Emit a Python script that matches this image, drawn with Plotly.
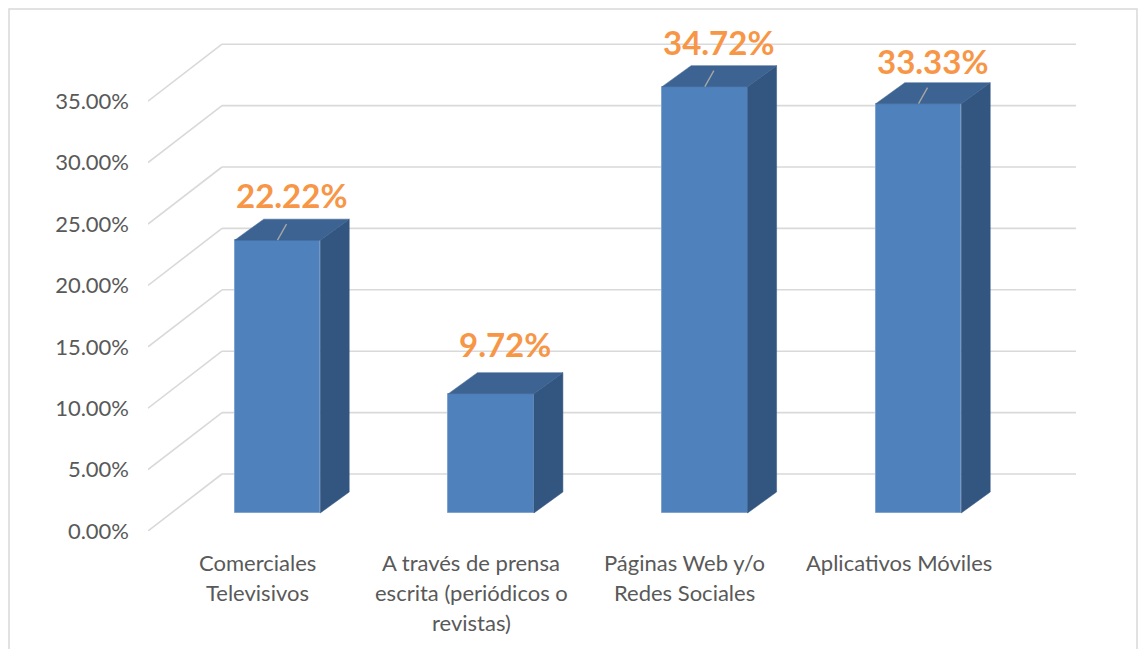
import plotly.graph_objects as go

# ---- data -------------------------------------------------------------
categories = [
    "Comerciales<br>Televisivos",
    "A través de prensa<br>escrita (periódicos o<br>revistas)",
    "Páginas Web y/o<br>Redes Sociales",
    "Aplicativos Móviles",
]
values = [22.22, 9.72, 34.72, 33.33]
tick_values = [0, 5, 10, 15, 20, 25, 30, 35]
tick_labels = ["0.00%", "5.00%", "10.00%", "15.00%", "20.00%", "25.00%", "30.00%", "35.00%"]
leader_shown = [True, False, True, True]

# ---- styling / geometry (pixels) --------------------------------------
W, H = 1139, 649
PLOT_L, PLOT_R, PLOT_T, PLOT_B = 148, 1076, 20, 531
PX_PER_CAT = 213.67          # horizontal pixels per category step
PX_PER_PCT = 12.28           # vertical pixels per percentage point
ZERO_Y = 513                 # pixel row of 0 % on the bar front plane
FIRST_X = 277.5              # pixel column of the first bar centre
BAR_W = 0.40                 # bar width in category units
DEPTH_DX, DEPTH_DY = 29, 21  # bar depth projection
WALL_DX, WALL_DY = 50.6, 39  # back wall offset from the bar plane
FLOOR_DY = 18                # front floor edge below the bar plane
LABEL_SHIFT = -20            # category labels sit on the front floor edge
VALUE_LABEL_NUDGE = [-2, -7, -2, 0]  # vertical pixel nudges of value labels

FRONT = "#4F81BD"
SIDE = "#335680"
TOP = "#3C6391"
GRID = "#D9D9D9"
TEXT = "#595959"
ORANGE = "#F79646"
FONT = "Lato"


def ux(px):
    return px / PX_PER_CAT


def uy(px):
    return px / PX_PER_PCT


def x_at(px):
    return (px - FIRST_X) / PX_PER_CAT


x_range = [x_at(PLOT_L), x_at(PLOT_R)]
y_range = [-uy(PLOT_B - ZERO_Y), uy(ZERO_Y - PLOT_T)]
idx = list(range(len(values)))
hw = BAR_W / 2
ddx, ddy = ux(DEPTH_DX), uy(DEPTH_DY)

fig = go.Figure()

# front faces
fig.add_trace(go.Bar(
    x=idx, y=values, width=BAR_W,
    marker=dict(color=FRONT, line=dict(color="#7FA3D1", width=1)),
    hoverinfo="skip", showlegend=False,
))

# side and top faces of each bar
for i, v in zip(idx, values):
    fig.add_trace(go.Scatter(
        x=[i + hw, i + hw + ddx, i + hw + ddx, i + hw, i + hw],
        y=[0, ddy, v + ddy, v, 0],
        fill="toself", fillcolor=SIDE, mode="lines",
        line=dict(color=SIDE, width=0.5),
        hoverinfo="skip", showlegend=False,
    ))
    fig.add_trace(go.Scatter(
        x=[i - hw, i + hw, i + hw + ddx, i - hw + ddx, i - hw],
        y=[v, v, v + ddy, v + ddy, v],
        fill="toself", fillcolor=TOP, mode="lines",
        line=dict(color=TOP, width=0.5),
        hoverinfo="skip", showlegend=False,
    ))

# leader lines from bar tops to their labels
for i, v, show in zip(idx, values, leader_shown):
    if show:
        fig.add_trace(go.Scatter(
            x=[i, i + ux(9)], y=[v, v + uy(16)], mode="lines",
            line=dict(color="#A6A6A6", width=1.4),
            hoverinfo="skip", showlegend=False,
        ))

# axis carrying the percentage tick labels along the front floor edge
fig.add_trace(go.Scatter(x=[None], y=[None], yaxis="y2",
                         hoverinfo="skip", showlegend=False))

shapes = []
# back wall gridlines plus diagonal floor/side-wall lines
for t in tick_values:
    shapes.append(dict(
        type="line", xref="x", yref="y", layer="below",
        x0=x_at(222), x1=x_at(PLOT_R), y0=t + uy(WALL_DY), y1=t + uy(WALL_DY),
        line=dict(color=GRID, width=1.6),
    ))
    shapes.append(dict(
        type="line", xref="x", yref="y", layer="below",
        x0=x_at(PLOT_L), x1=x_at(222), y0=t - uy(FLOOR_DY), y1=t + uy(WALL_DY),
        line=dict(color=GRID, width=1.6),
    ))


# chart border
def px_paper_x(px):
    return (px - PLOT_L) / (PLOT_R - PLOT_L)


def px_paper_y(py):
    return (PLOT_B - py) / (PLOT_B - PLOT_T)


shapes.append(dict(
    type="rect", xref="paper", yref="paper", layer="below",
    x0=px_paper_x(9), x1=px_paper_x(1137), y0=px_paper_y(665), y1=px_paper_y(9),
    line=dict(color=GRID, width=1.5), fillcolor="rgba(0,0,0,0)",
))

annotations = []
# value labels above each bar
for i, v, nudge in zip(idx, values, VALUE_LABEL_NUDGE):
    annotations.append(dict(
        x=i + ux(DEPTH_DX / 2) - ux(1), y=v + ddy, xref="x", yref="y",
        text=f"{v:.2f}%", showarrow=False, yanchor="bottom", xanchor="center",
        yshift=-nudge,
        font=dict(family=FONT, size=33, color=ORANGE, weight="bold"),
    ))
# category labels, one line at a time
for i, cat in zip(idx, categories):
    for k, line in enumerate(cat.split("<br>")):
        annotations.append(dict(
            x=i + ux(LABEL_SHIFT), y=0, xref="x", yref="paper",
            text=line, showarrow=False, xanchor="center", yanchor="middle",
            yshift=-(31 + 30 * k),
            font=dict(family=FONT, size=22, color=TEXT),
        ))

fig.update_layout(
    width=W, height=H,
    margin=dict(l=PLOT_L, r=W - PLOT_R, t=PLOT_T, b=H - PLOT_B),
    paper_bgcolor="white", plot_bgcolor="white",
    xaxis=dict(range=x_range, visible=False, fixedrange=True),
    yaxis=dict(range=y_range, visible=False, fixedrange=True),
    yaxis2=dict(
        overlaying="y", side="left",
        range=[y_range[0] + uy(FLOOR_DY), y_range[1] + uy(FLOOR_DY)],
        tickmode="array", tickvals=tick_values, ticktext=tick_labels,
        showgrid=False, zeroline=False, showline=False, ticks="",
        ticklabelstandoff=18,
        tickfont=dict(family=FONT, size=22, color=TEXT),
        fixedrange=True,
    ),
    shapes=shapes, annotations=annotations,
    bargap=0, showlegend=False,
)

fig.write_html("out.html")
